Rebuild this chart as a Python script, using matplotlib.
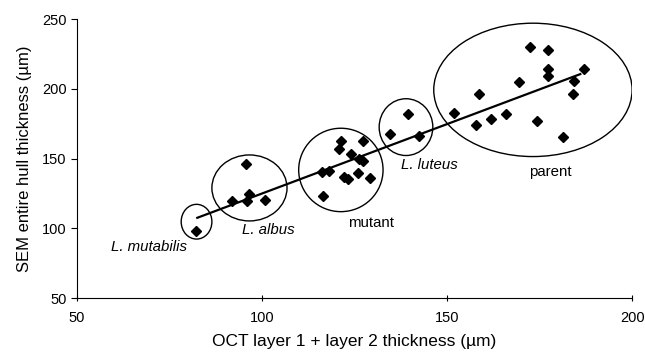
import matplotlib
matplotlib.use('Agg')
import matplotlib.pyplot as plt
from matplotlib.patches import Ellipse

plt.rcParams['font.family'] = ['Liberation Sans', 'DejaVu Sans']

# OCT thickness (x) vs SEM thickness (y), by group
mutabilis_x = [82.1]
mutabilis_y = [98.3]
albus_x = [95.6, 92.0, 95.9, 96.5, 100.9]
albus_y = [146.1, 119.6, 119.2, 124.4, 120.3]
mutant_x = [121.3, 127.2, 120.9, 124.0, 126.3, 127.3, 116.2, 118.0, 122.2, 123.1, 125.9, 129.1, 116.5]
mutant_y = [162.8, 162.8, 156.7, 153.1, 149.5, 148.3, 140.6, 141.3, 136.6, 135.1, 139.5, 135.9, 123.0]
luteus_x = [139.5, 134.5, 142.3]
luteus_y = [181.8, 167.9, 166.2]
parent_x = [172.5, 177.2, 177.2, 177.2, 187.0, 184.4, 184.0, 169.4, 158.5, 151.8, 157.9, 161.9, 165.8, 174.3, 181.4]
parent_y = [229.6, 227.7, 214.3, 209.5, 214.3, 205.9, 196.6, 204.7, 196.6, 182.5, 173.9, 178.4, 181.8, 176.8, 165.5]

# trend line end points
trend_x = [82.5, 186.0]
trend_y = [107.5, 210.5]

# group outlines: centre x, centre y, width, height
groups = ['L. mutabilis', 'L. albus', 'mutant', 'L. luteus', 'parent']
ell_cx = [82.3, 96.6, 121.3, 138.9, 173.2]
ell_cy = [104.7, 128.9, 141.8, 172.5, 199.2]
ell_w = [8.3, 20.3, 22.8, 14.5, 53.6]
ell_h = [24.9, 47.3, 59.8, 40.7, 95.6]
label_x = [69.5, 101.8, 129.5, 145.2, 177.8]
label_y = [86.8, 98.8, 103.8, 145.4, 140.0]
italic = [True, True, False, True, False]

fig = plt.figure(figsize=(6.45, 3.56), dpi=100)
ax = fig.add_axes([0.1194, 0.1629, 0.8606, 0.7837])

all_x = mutabilis_x + albus_x + mutant_x + luteus_x + parent_x
all_y = mutabilis_y + albus_y + mutant_y + luteus_y + parent_y
ax.plot(trend_x, trend_y, color='black', lw=1.6, zorder=2)
ax.plot(all_x, all_y, 'D', color='black', markersize=4.8, zorder=3)

for i in range(len(groups)):
    ax.add_patch(Ellipse((ell_cx[i], ell_cy[i]), ell_w[i], ell_h[i],
                         fill=False, edgecolor='black', lw=1.0))
    ax.text(label_x[i], label_y[i], groups[i], ha='center', va='center',
            fontsize=10.8, style='italic' if italic[i] else 'normal')

ax.set_xlim(50, 200)
ax.set_ylim(50, 250)
ax.set_xticks([50, 100, 150, 200])
ax.set_yticks([50, 100, 150, 200, 250])
ax.spines['top'].set_visible(False)
ax.spines['right'].set_visible(False)
ax.tick_params(axis='x', direction='inout', length=5, labelsize=10.5, pad=7)
ax.tick_params(axis='y', direction='out', length=4, labelsize=10.5)
ax.set_xlabel('OCT layer 1 + layer 2 thickness (\u00b5m)', fontsize=12.5, labelpad=6)
ax.set_ylabel('SEM entire hull thickness (\u00b5m)', fontsize=12, labelpad=7)

fig.savefig('out.png', dpi=100)
